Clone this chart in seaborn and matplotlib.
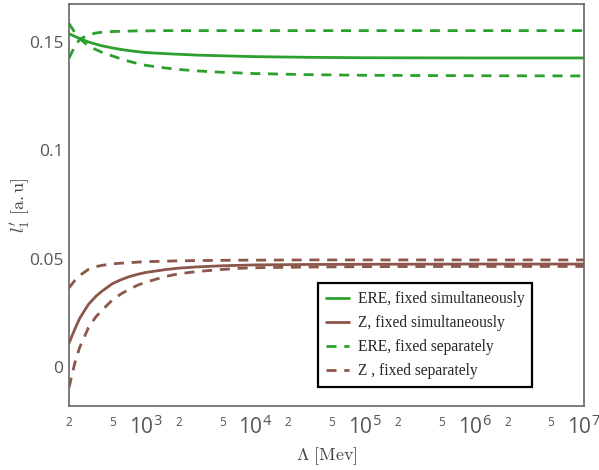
import matplotlib
matplotlib.use("Agg")
import matplotlib.pyplot as plt
import matplotlib.ticker as mticker
import numpy as np
import seaborn as sns

# cutoff values (MeV) and read-off curves
lam = [200, 225, 250, 300, 350, 400, 500, 600, 700, 850, 1000, 1500, 2000, 3000,
       5000, 7000, 1e4, 3e4, 1e5, 1e6, 1e7]

ere_simult = [0.1538, 0.1526, 0.1516, 0.1500, 0.1490, 0.1482, 0.1472, 0.1465, 0.1460,
              0.1455, 0.1451, 0.1446, 0.1443, 0.1439, 0.1436, 0.1434, 0.1432, 0.1429,
              0.1427, 0.1426, 0.1426]
z_simult = [0.0110, 0.0172, 0.0224, 0.0288, 0.0325, 0.0350, 0.0385, 0.0403, 0.0416,
            0.0428, 0.0436, 0.0449, 0.0456, 0.0462, 0.0467, 0.0469, 0.0471, 0.0473,
            0.0474, 0.0475, 0.0475]
ere_sep_up = [0.1425, 0.1478, 0.1512, 0.1532, 0.1541, 0.1545, 0.1548, 0.1549, 0.1550,
              0.1551, 0.1551, 0.1552, 0.1552, 0.1552, 0.1552, 0.1552, 0.1552, 0.1552,
              0.1552, 0.1552, 0.1552]
ere_sep_low = [0.1585, 0.1545, 0.1515, 0.1482, 0.1465, 0.1452, 0.1435, 0.1421, 0.1411,
               0.1400, 0.1392, 0.1380, 0.1373, 0.1366, 0.1360, 0.1357, 0.1354, 0.1349,
               0.1346, 0.1344, 0.1343]
z_sep_up = [0.0365, 0.0398, 0.0422, 0.0450, 0.0463, 0.0469, 0.0476, 0.0479, 0.0481,
            0.0484, 0.0486, 0.0488, 0.0490, 0.0491, 0.0492, 0.0493, 0.0493, 0.0494,
            0.0494, 0.0494, 0.0494]
z_sep_low = [-0.0095, 0.0015, 0.0090, 0.0180, 0.0230, 0.0262, 0.0310, 0.0338, 0.0357,
             0.0378, 0.0391, 0.0417, 0.0430, 0.0441, 0.0450, 0.0455, 0.0458, 0.0461,
             0.0463, 0.0464, 0.0464]

green = "#2ca02c"
brown = "#8c564b"

sns.set_theme(style="white")
plt.rcParams["font.family"] = ["Open Sans", "DejaVu Sans"]
plt.rcParams["mathtext.fontset"] = "custom"
plt.rcParams["mathtext.rm"] = "Open Sans"
plt.rcParams["mathtext.it"] = "Open Sans:italic"

fig = plt.figure(figsize=(5.99, 4.70), dpi=100)
ax = fig.add_axes([0.1152, 0.1362, 0.8598, 0.8553])

dash = (0, (3.6, 2.8))
sns.lineplot(x=lam, y=ere_simult, color=green, lw=2, ax=ax, label="ERE, fixed simultaneously")
sns.lineplot(x=lam, y=z_simult, color=brown, lw=2, ax=ax, label="Z, fixed simultaneously")
sns.lineplot(x=lam, y=ere_sep_up, color=green, lw=2, ls=dash, ax=ax, label="ERE, fixed separately")
sns.lineplot(x=lam, y=ere_sep_low, color=green, lw=2, ls=dash, ax=ax)
sns.lineplot(x=lam, y=z_sep_up, color=brown, lw=2, ls=dash, ax=ax, label="Z , fixed separately")
sns.lineplot(x=lam, y=z_sep_low, color=brown, lw=2, ls=dash, ax=ax)

ax.set_xscale("log")
ax.set_xlim(200, 1e7)
ax.set_ylim(-0.018, 0.1675)

ax.xaxis.set_major_locator(mticker.LogLocator(base=10, numticks=10))
ax.xaxis.set_minor_locator(mticker.LogLocator(base=10, subs=(2, 5), numticks=20))
ax.xaxis.set_major_formatter(mticker.FuncFormatter(
    lambda v, p: r"$\mathregular{10^{%d}}$" % round(np.log10(v))))
ax.xaxis.set_minor_formatter(mticker.FuncFormatter(
    lambda v, p: "%d" % round(v / 10 ** np.floor(np.log10(v) + 1e-9))))
ax.tick_params(axis="x", which="major", direction="in", length=5, width=1, color="#666666",
               labelsize=15, labelcolor="#555555", pad=7)
ax.tick_params(axis="x", which="minor", direction="in", length=5, width=1, color="#666666",
               labelsize=8.5, labelcolor="#555555", pad=7)

ax.set_yticks([0, 0.05, 0.1, 0.15])
ax.set_yticklabels(["0", "0.05", "0.1", "0.15"])
ax.tick_params(axis="y", length=0, labelsize=12.5, labelcolor="#555555", pad=4)

for s in ax.spines.values():
    s.set_color("#666666")
    s.set_linewidth(1.2)

ax.set_xlabel(r"$\Lambda\ [\mathrm{Mev}]$", fontsize=13, color="#444444",
              math_fontfamily="cm", labelpad=4)
ax.set_ylabel(r"$l^{\prime}_{1}\ [\mathrm{a.u}]$", fontsize=13, color="#444444",
              math_fontfamily="cm")
ax.yaxis.set_label_coords(-0.072, 0.5)

leg = ax.legend(loc="lower right", bbox_to_anchor=(0.899, 0.047), borderaxespad=0,
                prop={"family": "Liberation Serif", "size": 11.2},
                frameon=True, fancybox=False, framealpha=1, edgecolor="black",
                handlelength=1.5, handletextpad=0.55, labelspacing=0.52, borderpad=0.5)
leg.get_frame().set_linewidth(1.6)

fig.savefig("out.png", dpi=100)
